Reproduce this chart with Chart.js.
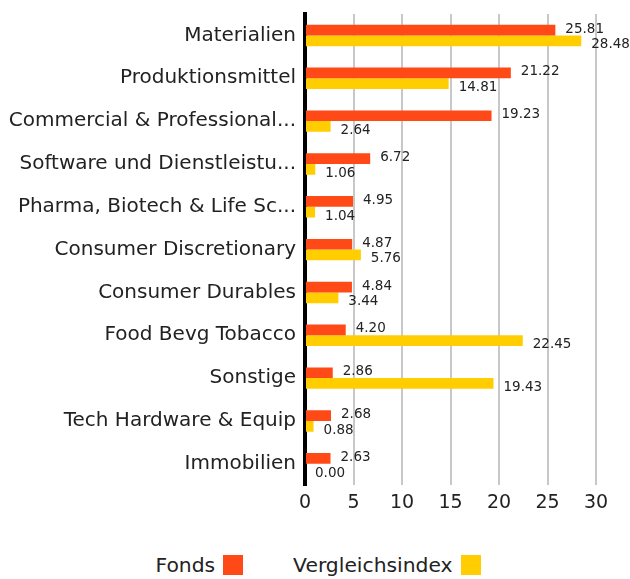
<!DOCTYPE html>
<html lang="de">
<head>
    <meta charset="UTF-8">
    <title>Sektoren</title>
    <script src="https://cdn.jsdelivr.net/npm/chart.js"></script>
    <style>
        body { margin: 0; background: #fff; font-family: "DejaVu Sans", sans-serif; }
        #wrap { position: relative; width: 630px; height: 530px; }
        #legend { display: flex; justify-content: center; gap: 50px; margin-top: 23px; font-size: 20.3px; color: #222; padding-left: 6px; }
        #legend span.box { display: inline-block; width: 20px; height: 20px; margin-left: 8px; vertical-align: -3px; }
    </style>
</head>
<body>
<div id="wrap"><canvas id="chart"></canvas></div>
<div id="legend"></div>

<script>
    const categories = ['Materialien', 'Produktionsmittel', 'Commercial & Professional...', 'Software und Dienstleistu...',
        'Pharma, Biotech & Life Sc...', 'Consumer Discretionary', 'Consumer Durables', 'Food Bevg Tobacco',
        'Sonstige', 'Tech Hardware & Equip', 'Immobilien'];
    const fonds = [25.81, 21.22, 19.23, 6.72, 4.95, 4.87, 4.84, 4.20, 2.86, 2.68, 2.63];
    const vergleichsindex = [28.48, 14.81, 2.64, 1.06, 1.04, 5.76, 3.44, 22.45, 19.43, 0.88, 0.00];
    const xTicks = [0, 5, 10, 15, 20, 25, 30];

    const colors = ['#ff4a17', '#ffcd00'];
    const names = ['Fonds', 'Vergleichsindex'];

    // value labels right of the bars
    const valueLabels = {
        id: 'valueLabels',
        afterDatasetsDraw(chart) {
            const ctx = chart.ctx;
            ctx.save();
            ctx.font = '13.5px "DejaVu Sans"';
            ctx.fillStyle = '#222';
            ctx.textBaseline = 'middle';
            chart.data.datasets.forEach((ds, i) => {
                chart.getDatasetMeta(i).data.forEach((bar, j) => {
                    const dy = i === 0 ? -1 : 4;
                    ctx.fillText(ds.data[j].toFixed(2), bar.x + 10, bar.y + dy);
                });
            });
            ctx.restore();
        }
    };

    new Chart(document.getElementById('chart'), {
        type: 'bar',
        data: {
            labels: categories,
            datasets: [
                { label: names[0], data: fonds, backgroundColor: colors[0] },
                { label: names[1], data: vergleichsindex, backgroundColor: colors[1] }
            ]
        },
        options: {
            indexAxis: 'y',
            responsive: true,
            maintainAspectRatio: false,
            animation: false,
            categoryPercentage: 0.5,
            barPercentage: 1,
            layout: { padding: { top: 14, right: 34, bottom: 10 } },
            plugins: { legend: { display: false }, tooltip: { enabled: false } },
            scales: {
                x: {
                    min: 0, max: 30,
                    afterBuildTicks: axis => { axis.ticks = xTicks.map(v => ({ value: v })); },
                    grid: { color: '#c8c8c8', lineWidth: 2, drawTicks: false },
                    border: { display: false },
                    ticks: { color: '#222', font: { family: 'DejaVu Sans', size: 19 }, padding: 6 }
                },
                y: {
                    afterFit: axis => { axis.width = 305; },
                    grid: { display: false },
                    border: { display: true, color: '#000', width: 4 },
                    ticks: { color: '#222', font: { family: 'DejaVu Sans', size: 20 }, padding: 1 }
                }
            }
        },
        plugins: [valueLabels]
    });

    const legend = document.getElementById('legend');
    names.forEach((n, i) => {
        const d = document.createElement('div');
        d.innerHTML = n + '<span class="box" style="background:' + colors[i] + '"></span>';
        legend.appendChild(d);
    });
</script>
</body>
</html>
